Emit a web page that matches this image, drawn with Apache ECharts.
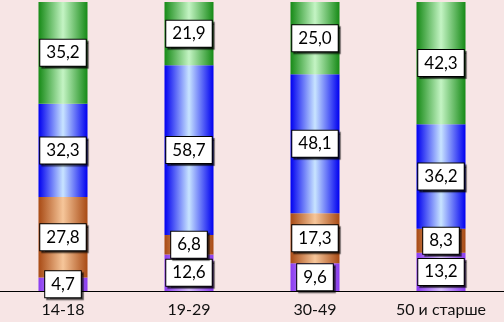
<!DOCTYPE html>
<html><head><meta charset="utf-8">
<script src="https://cdn.jsdelivr.net/npm/echarts@6/dist/echarts.min.js"></script>
<style>html,body{margin:0;padding:0;background:#f7e5e5;}#c{width:504px;height:322px;}</style>
</head><body><div id="c"></div>
<script>
const categories = ['14-18', '19-29', '30-49', '50 и старше'];
const purple = [4.7, 12.6, 9.6, 13.2];
const orange = [27.8, 6.8, 17.3, 8.3];
const blue = [32.3, 58.7, 48.1, 36.2];
const green = [35.2, 21.9, 25.0, 42.3];

function grad(edge, mid) {
  return new echarts.graphic.LinearGradient(0, 0, 1, 0, [
    {offset: 0, color: edge}, {offset: 0.5, color: mid}, {offset: 1, color: edge}
  ]);
}
const label = {
  show: true, position: 'inside',
  formatter: p => p.value.toFixed(1).replace('.', ','),
  color: '#000', fontFamily: 'Lato, "Open Sans", sans-serif', fontSize: 17,
  backgroundColor: '#fff', borderColor: '#000', borderWidth: 1,
  padding: [5, 6, 4, 6],
  shadowColor: 'rgba(0,0,0,0.6)', shadowOffsetX: 2, shadowOffsetY: 2, shadowBlur: 1
};
function s(name, data, edge, mid) {
  return {name, type: 'bar', stack: 't', data, barWidth: 49,
    itemStyle: {color: grad(edge, mid)}, label, emphasis: {disabled: true}};
}
const chart = echarts.init(document.getElementById('c'));
chart.setOption({
  backgroundColor: '#f7e5e5',
  animation: false,
  grid: {left: 0, right: 0, top: 2, bottom: 31},
  xAxis: {type: 'category', data: categories,
    axisLine: {lineStyle: {color: '#000', width: 1}}, axisTick: {show: false},
    axisLabel: {color: '#111', fontSize: 16, fontFamily: 'Lato, "Open Sans", sans-serif', margin: 11}},
  yAxis: {type: 'value', min: 0, max: 100, show: false},
  series: [
    s('p', purple, '#8a3af0', '#d8c0ff'),
    s('o', orange, '#a84a14', '#f6c69a'),
    s('b', blue, '#0000f0', '#c8e4ff'),
    s('g', green, '#168a16', '#c4f4c4')
  ]
});
</script></body></html>
